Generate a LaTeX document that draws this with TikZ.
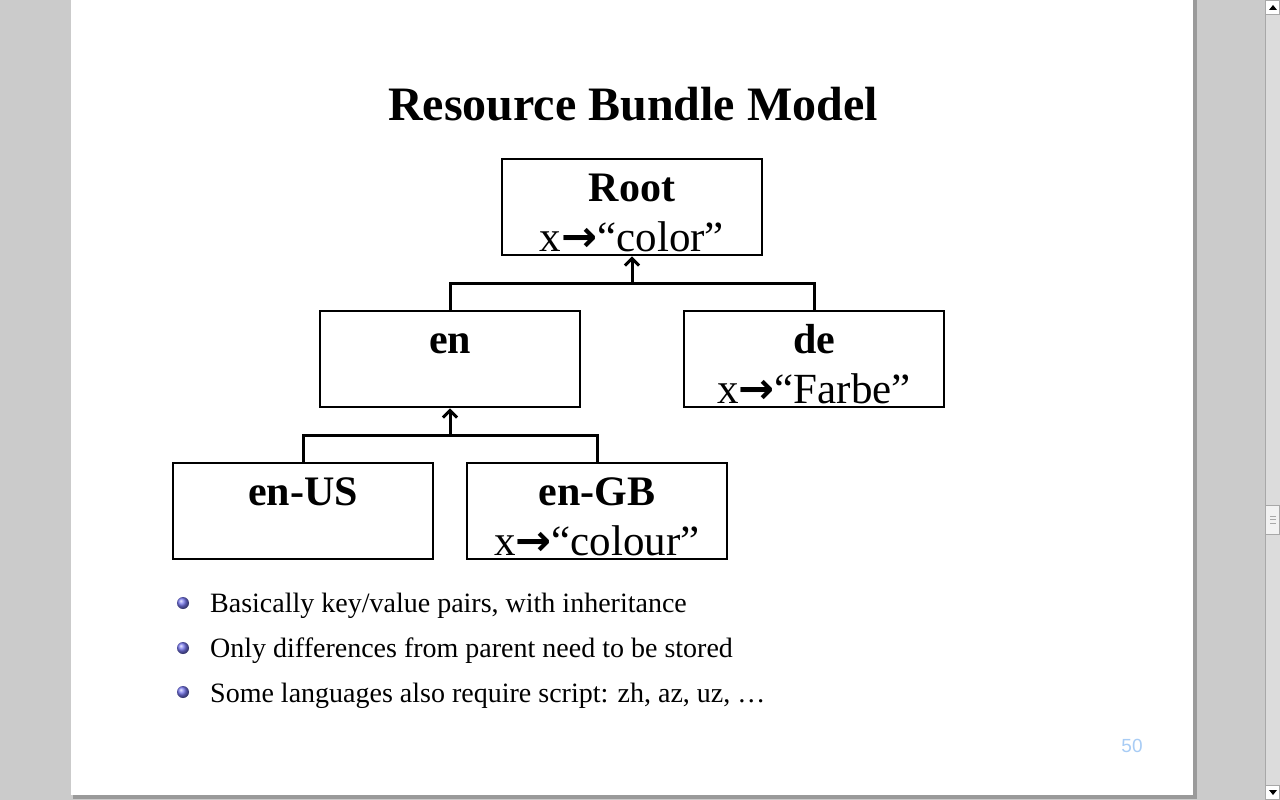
\documentclass[tikz,border=0pt]{standalone}
\usepackage{fontspec}
\setmainfont{Liberation Serif}
\newfontfamily\arrowfont{DejaVu Sans}
\newfontfamily\numfont{Liberation Sans}
\usetikzlibrary{arrows.meta,shadings}
\definecolor{bg}{HTML}{CBCBCB}
\definecolor{slideshadow}{HTML}{9A9A9A}
\definecolor{sbtrack}{HTML}{DCDCDC}
\definecolor{sbborder}{HTML}{A8A8A8}
\definecolor{sbthumb}{HTML}{F2F2F2}
\definecolor{bulc}{HTML}{7878F0}
\definecolor{pagenum}{HTML}{A8CCF5}
\begin{document}
\begin{tikzpicture}[x=1pt,y=-1pt,
  box/.style={draw=black,line width=1.2pt,minimum width=260pt,minimum height=96pt,inner sep=0pt},
  head/.style={font=\fontsize{42}{48}\selectfont\bfseries,anchor=base,inner sep=0pt},
  val/.style={font=\fontsize{43}{48}\selectfont,anchor=base,inner sep=0pt},
  link/.style={line width=3pt},
  chev/.style={line width=3pt,line join=miter,line cap=butt},
  bul/.style={circle,minimum size=12pt,inner sep=0pt,shading=ball,ball color=bulc},
  btxt/.style={font=\fontsize{28}{32}\selectfont,anchor=base west,inner sep=0pt}]
\useasboundingbox (0,0) rectangle (1280,800);
% screen background and slide
\fill[bg] (0,0) rectangle (1280,800);
\fill[slideshadow] (73,-2) rectangle (1197,799);
\fill[white] (71,-5) rectangle (1193,795);
% scrollbar
\fill[sbtrack] (1265,0) rectangle (1280,800);
\draw[sbborder,line width=1pt] (1265.5,0) -- (1265.5,800);
\filldraw[fill=white,draw=sbborder,line width=0.8pt] (1265.5,0.5) rectangle (1279.5,14);
\fill[black] (1269,10) -- (1277,10) -- (1273,5) -- cycle;
\filldraw[fill=sbthumb,draw=sbborder,line width=0.8pt] (1265.5,505) rectangle (1279.5,534);
\draw[sbborder,line width=0.8pt] (1270,516) -- (1276,516) (1270,519.5) -- (1276,519.5) (1270,523) -- (1276,523);
\filldraw[fill=white,draw=sbborder,line width=0.8pt] (1265.5,785) rectangle (1279.5,799.5);
\fill[black] (1269,790) -- (1277,790) -- (1273,795) -- cycle;
% title
\node[font=\fontsize{48}{56}\selectfont\bfseries,anchor=base,inner sep=0pt] (title) at (633,120) {Resource Bundle Model};
% boxes
\node[box] (root) at (632,207) {};
\node[box] (en) at (450,359) {};
\node[box] (de) at (814,359) {};
\node[box] (enus) at (303,511) {};
\node[box] (engb) at (597,511) {};
% labels
\node[head] (rootT) at (632,201) {Root};
\node[val] (rootV) at (632,251) {x{\arrowfont\bfseries →}“color”};
\node[head] (enT) at (450,353) {en};
\node[head] (deT) at (814,353) {de};
\node[val] (deV) at (814,403) {x{\arrowfont\bfseries →}“Farbe”};
\node[head] (enusT) at (303,505) {en-US};
\node[head] (engbT) at (597,505) {en-GB};
\node[val] (engbV) at (597,555) {x{\arrowfont\bfseries →}“colour”};
% connectors
\coordinate (j1) at (632,283);
\draw[link] (en.north) |- (j1) -| (de.north);
\draw[link] (j1) -- ([yshift=-3pt]root.south);
\draw[chev] ([xshift=-7pt,yshift=-10pt]root.south) -- ([yshift=-3pt]root.south) -- ([xshift=7pt,yshift=-10pt]root.south);
\coordinate (j2) at (450,435);
\draw[link] (enus.north) |- (j2) -| (engb.north);
\draw[link] (j2) -- ([yshift=-3pt]en.south);
\draw[chev] ([xshift=-7pt,yshift=-10pt]en.south) -- ([yshift=-3pt]en.south) -- ([xshift=7pt,yshift=-10pt]en.south);
% bullets
\node[bul] (b1) at (183,603) {};
\node[btxt] (t1) at (210,612) {Basically key/value pairs, with inheritance};
\node[bul] (b2) at (183,648) {};
\node[btxt] (t2) at (210,657) {Only differences from parent need to be stored};
\node[bul] (b3) at (183,692) {};
\node[btxt] (t3) at (210,702) {Some languages also require script: zh, az, uz, …};
% page number
\node[font=\numfont\fontsize{19}{22}\selectfont,text=pagenum,anchor=base,inner sep=0pt] (num) at (1132,752) {50};
\end{tikzpicture}
\end{document}
